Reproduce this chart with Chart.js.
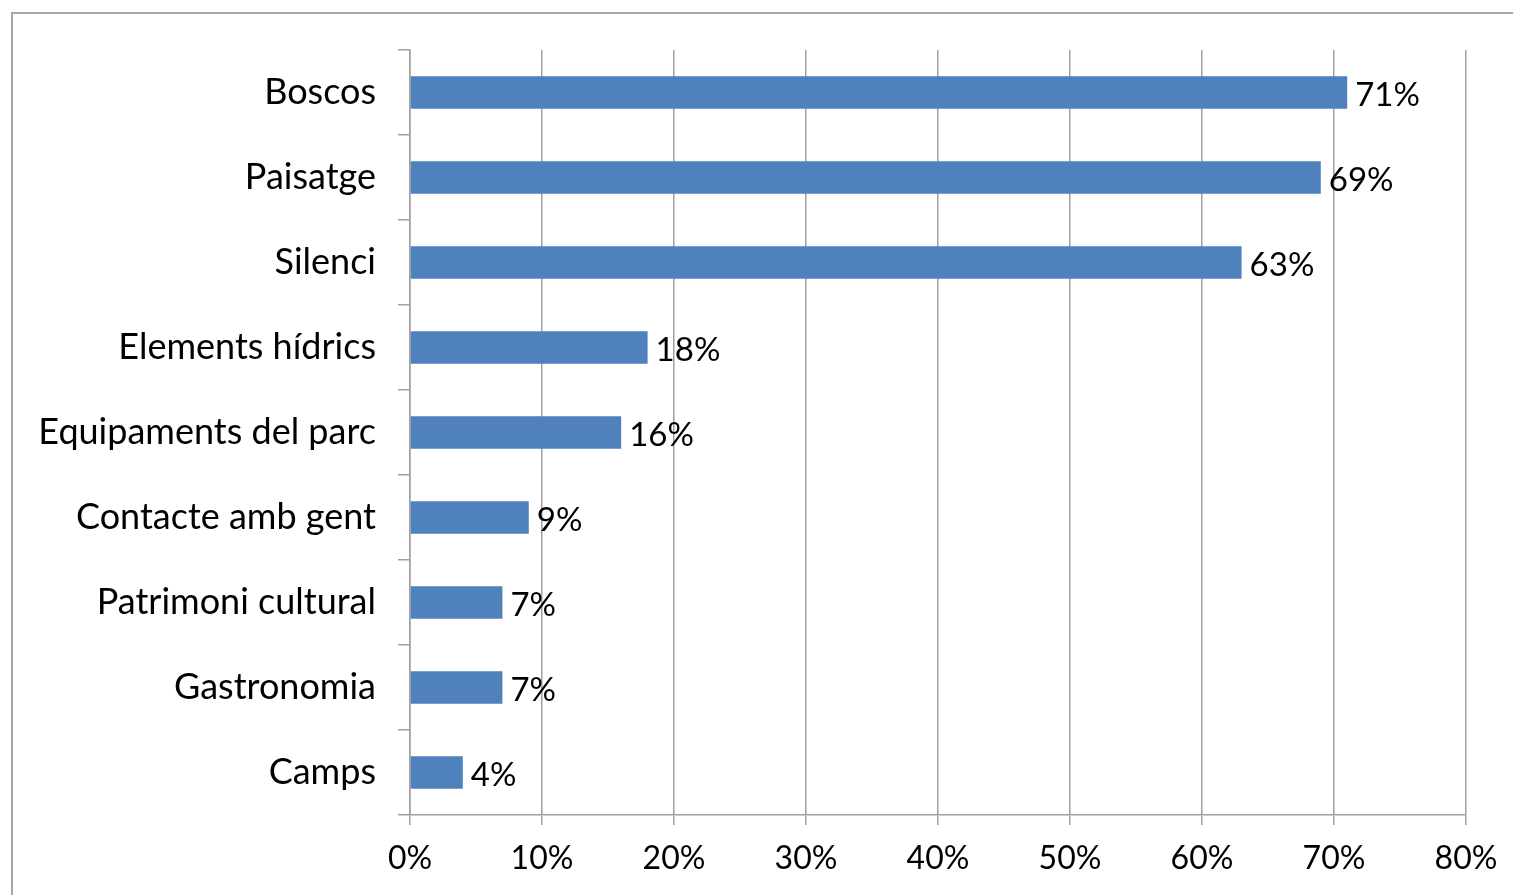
<!DOCTYPE html>
<html>
<head>
<meta charset="utf-8">
<script src="https://cdn.jsdelivr.net/npm/chart.js@4"></script>
<style>
  html, body { margin: 0; padding: 0; background: #fff; overflow: hidden; }
  #frame { position: absolute; left: 11px; top: 12px; width: 1600px; height: 1000px; border: 2px solid #a6a6a6; }
  #wrap { position: absolute; left: 0; top: 0; width: 1513px; height: 895px; }
</style>
</head>
<body>
<div id="frame"></div>
<div id="wrap"><canvas id="grafic"></canvas></div>
<script>
// Categories i valors (percentatge)
const categories = ['Boscos', 'Paisatge', 'Silenci', 'Elements hídrics', 'Equipaments del parc',
  'Contacte amb gent', 'Patrimoni cultural', 'Gastronomia', 'Camps'];
const valors = [71, 69, 63, 18, 16, 9, 7, 7, 4];
const ticksX = [0, 10, 20, 30, 40, 50, 60, 70, 80];

const familia = 'Lato, "DejaVu Sans", sans-serif';

// Etiquetes de dades al final de cada barra
const etiquetes = {
  id: 'etiquetes',
  afterDatasetsDraw(chart) {
    const ctx = chart.ctx;
    const meta = chart.getDatasetMeta(0);
    ctx.save();
    ctx.font = '33px ' + familia;
    ctx.fillStyle = '#000';
    ctx.textAlign = 'left';
    ctx.textBaseline = 'middle';
    meta.data.forEach((bar, i) => {
      ctx.fillText(valors[i] + '%', bar.x + 8, bar.y + 3);
    });
    ctx.restore();
  }
};

const ctx = document.getElementById('grafic');

const myChart = new Chart(ctx, {
  type: 'bar',
  data: {
    labels: categories,
    datasets: [{
      data: valors,
      backgroundColor: '#4f81bd',
      borderWidth: 0,
      categoryPercentage: 1,
      barPercentage: 0.38
    }]
  },
  options: {
    indexAxis: 'y',
    responsive: true,
    maintainAspectRatio: false,
    animation: false,
    layout: { padding: { top: 50, right: 47, left: 0, bottom: 0 } },
    plugins: { legend: { display: false }, tooltip: { enabled: false } },
    scales: {
      x: {
        min: 0,
        max: 80,
        afterBuildTicks(scale) { scale.ticks = ticksX.map(v => ({ value: v })); },
        afterFit(scale) { scale.height = 80; },
        grid: { color: '#a0a0a0', lineWidth: 1.5, tickLength: 10, drawTicks: true },
        border: { color: '#a0a0a0', width: 1.5 },
        ticks: { color: '#000', font: { family: familia, size: 32 }, padding: 14, maxRotation: 0, callback: v => v + '%' }
      },
      y: {
        afterFit(scale) { scale.width = 410; },
        grid: { color: '#a0a0a0', lineWidth: 1.5, drawOnChartArea: false, tickLength: 12, offset: true },
        border: { color: '#a0a0a0', width: 1.5 },
        ticks: { color: '#000', font: { family: familia, size: 36 }, padding: 22 }
      }
    }
  },
  plugins: [etiquetes]
});
</script>
</body>
</html>
